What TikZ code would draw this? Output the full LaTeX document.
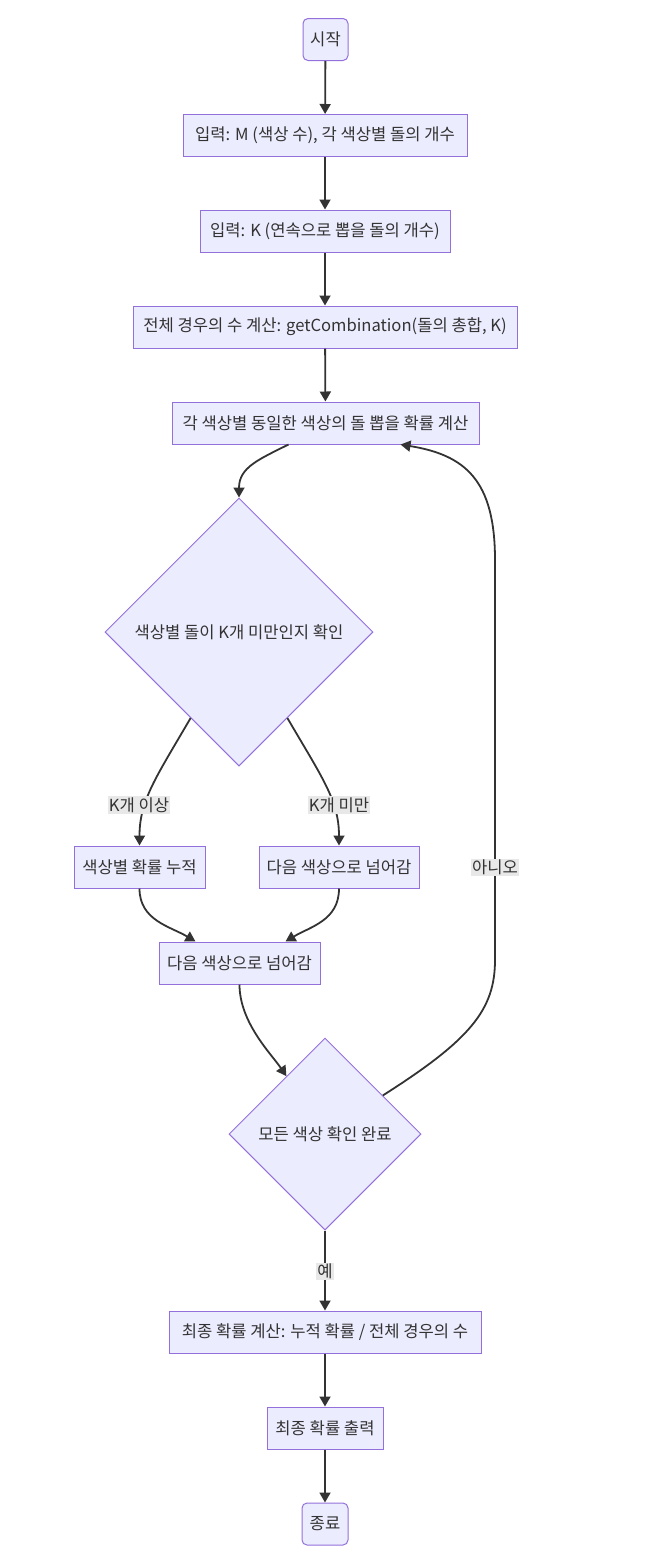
\documentclass[tikz,border=0pt]{standalone}
\usepackage{fontspec}
\setmainfont{Noto Sans CJK KR}
\usetikzlibrary{shapes.geometric,arrows.meta,calc}
\definecolor{nodefill}{HTML}{ECECFF}
\definecolor{nodeline}{HTML}{9370DB}
\definecolor{ink}{HTML}{333333}
\definecolor{lblbg}{HTML}{E8E8E8}
\begin{document}
\begin{tikzpicture}[x=1pt,y=-1pt,
  every node/.style={font=\fontsize{16.6}{19}\selectfont, text=ink},
  box/.style={draw=nodeline, fill=nodefill, line width=1pt, minimum height=42pt, inner sep=0pt},
  rbox/.style={box, rounded corners=5pt},
  dia/.style={draw=nodeline, fill=nodefill, line width=1pt, diamond, aspect=1, inner sep=0pt},
  edge/.style={draw=ink, line width=1.8pt, -{Triangle[length=10pt,width=11pt]}},
  lbl/.style={fill=lblbg, inner sep=1pt}]
\useasboundingbox (0,0) rectangle (668,1566);
\node[rbox, minimum width=45pt] (n1) at (325.5,39.5) {시작};
\node[box, minimum width=284pt] (n2) at (325,135.5) {입력: M (색상 수), 각 색상별 돌의 개수};
\node[box, minimum width=250pt] (n3) at (325,231) {입력: K (연속으로 뽑을 돌의 개수)};
\node[box, minimum width=384pt] (n4) at (325,327) {전체 경우의 수 계산: getCombination(돌의 총합, K)};
\node[box, minimum width=307pt] (n5) at (325.5,423) {각 색상별 동일한 색상의 돌 뽑을 확률 계산};
\node[dia, minimum size=268pt] (d1) at (239,632) {색상별 돌이 K개 미만인지 확인};
\node[box, minimum width=131pt] (n7) at (139.5,867) {색상별 확률 누적};
\node[box, minimum width=160pt] (n8) at (339,867) {다음 색상으로 넘어감};
\node[box, minimum width=161pt] (n9) at (239.5,963) {다음 색상으로 넘어감};
\node[dia, minimum size=192pt] (d2) at (325,1134) {모든 색상 확인 완료};
\node[box, minimum width=312pt] (n11) at (325,1332) {최종 확률 계산: 누적 확률 / 전체 경우의 수};
\node[box, minimum width=116pt] (n12) at (325,1428) {최종 확률 출력};
\node[rbox, minimum width=46pt] (n13) at (325,1524) {종료};

\draw[edge] (n1) -- (n2);
\draw[edge] (n2) -- (n3);
\draw[edge] (n3) -- (n4);
\draw[edge] (n4) -- (n5);
\draw[edge] ([xshift=-37pt]n5.south) .. controls +(-30,15) and +(0,-30) .. (d1.north);
\draw[edge] ($(d1.west)!0.64!(d1.south)$) .. controls +(-35,60) and +(0,-45) .. (n7.north);
\draw[edge] ($(d1.east)!0.64!(d1.south)$) .. controls +(35,60) and +(0,-45) .. (n8.north);
\draw[edge] (n7.south) .. controls +(0,32) and +(-25,-15) .. ([xshift=-44pt]n9.north);
\draw[edge] (n8.south) .. controls +(0,32) and +(25,-15) .. ([xshift=46pt]n9.north);
\draw[edge] (n9.south) .. controls +(0,38) and +(-15,-22) .. ($(d2.north)!0.4!(d2.west)$);
\draw[edge] ($(d2.north)!0.6!(d2.east)$) .. controls (470,1040) and (495,1010) .. (495,960)
   -- (495,560) .. controls (495,480) and (465,455) .. ([xshift=75pt]n5.south);
\draw[edge] (d2.south) -- (n11.north);
\draw[edge] (n11) -- (n12);
\draw[edge] (n12) -- (n13);

\node[lbl] (l1) at (139,805) {K개 이상};
\node[lbl] (l2) at (339,805) {K개 미만};
\node[lbl] (l3) at (495,867) {아니오};
\node[lbl] (l4) at (325,1271) {예};
\end{tikzpicture}
\end{document}
